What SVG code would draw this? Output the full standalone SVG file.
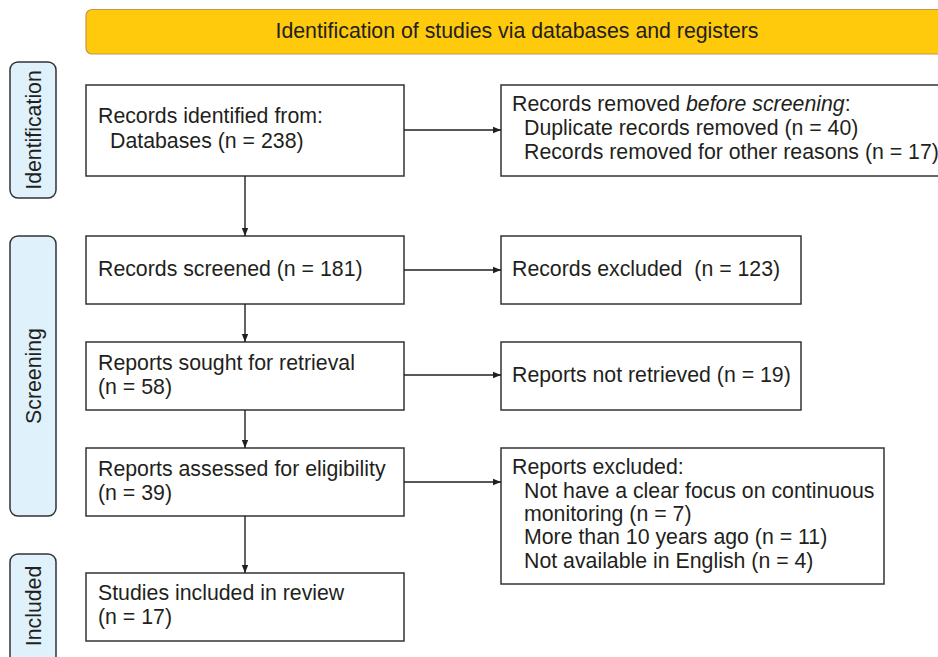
<svg xmlns="http://www.w3.org/2000/svg" width="938" height="657" viewBox="0 0 938 657">
  <style>
    .box { fill: #ffffff; stroke: #333333; stroke-width: 1.5; }
    .phase { fill: #dff1fa; stroke: #333333; stroke-width: 1.5; }
    .banner { fill: #ffc90c; stroke: #c9954a; stroke-width: 1.2; }
    text { font-family: "Liberation Sans", Arial, sans-serif; font-size: 21.3px; fill: #231f20; white-space: pre; }
    .conn { stroke: #231f20; stroke-width: 1.4; fill: none; marker-end: url(#arrow); }
  </style>
  <defs>
    <marker id="arrow" viewBox="0 0 10 10" refX="10" refY="5" markerWidth="8" markerHeight="8" markerUnits="userSpaceOnUse" orient="auto">
      <path d="M0,1 L10,5 L0,9 z" fill="#231f20"/>
    </marker>
  </defs>

  <!-- title banner -->
  <g id="banner">
    <rect class="banner" x="86" y="9.5" width="870" height="44.5" rx="6"/>
    <text x="517" y="38" text-anchor="middle" font-size="21">Identification of studies via databases and registers</text>
  </g>

  <!-- phase labels -->
  <g id="phase-identification">
    <rect class="phase" x="10" y="62" width="46" height="136" rx="8"/>
    <text transform="translate(41,130) rotate(-90)" text-anchor="middle">Identification</text>
  </g>
  <g id="phase-screening">
    <rect class="phase" x="10" y="236" width="46" height="280" rx="8"/>
    <text transform="translate(41,376) rotate(-90)" text-anchor="middle">Screening</text>
  </g>
  <g id="phase-included">
    <rect class="phase" x="10" y="554" width="46" height="120" rx="8"/>
    <text transform="translate(41,606) rotate(-90)" text-anchor="middle">Included</text>
  </g>

  <!-- main column -->
  <g id="identified">
    <rect class="box" x="86" y="85" width="318" height="91"/>
    <text x="98" y="123">Records identified from:</text>
    <text x="110" y="148">Databases (n = 238)</text>
  </g>
  <g id="screened">
    <rect class="box" x="86" y="236" width="318" height="68"/>
    <text x="98" y="276">Records screened (n = 181)</text>
  </g>
  <g id="sought">
    <rect class="box" x="86" y="342" width="318" height="68"/>
    <text x="98" y="370">Reports sought for retrieval</text>
    <text x="98" y="394">(n = 58)</text>
  </g>
  <g id="assessed">
    <rect class="box" x="86" y="448" width="318" height="68"/>
    <text x="98" y="476">Reports assessed for eligibility</text>
    <text x="98" y="500">(n = 39)</text>
  </g>
  <g id="included">
    <rect class="box" x="86" y="573" width="318" height="68"/>
    <text x="98" y="600">Studies included in review</text>
    <text x="98" y="624">(n = 17)</text>
  </g>

  <!-- side column -->
  <g id="removed">
    <rect class="box" x="501" y="85" width="460" height="91"/>
    <text x="512" y="111">Records removed <tspan font-style="italic">before screening</tspan>:</text>
    <text x="524" y="135">Duplicate records removed (n = 40)</text>
    <text x="524" y="159">Records removed for other reasons (n = 17)</text>
  </g>
  <g id="excluded">
    <rect class="box" x="501" y="236" width="300" height="68"/>
    <text x="512" y="276">Records excluded  (n = 123)</text>
  </g>
  <g id="not-retrieved">
    <rect class="box" x="501" y="342" width="300" height="68"/>
    <text x="512" y="382">Reports not retrieved (n = 19)</text>
  </g>
  <g id="reports-excluded">
    <rect class="box" x="501" y="448" width="383" height="136"/>
    <text x="512" y="474">Reports excluded:</text>
    <text x="524" y="498">Not have a clear focus on continuous</text>
    <text x="524" y="521">monitoring (n = 7)</text>
    <text x="524" y="544">More than 10 years ago (n = 11)</text>
    <text x="524" y="568">Not available in English (n = 4)</text>
  </g>

  <!-- connectors -->
  <g id="connectors">
    <line class="conn" x1="245" y1="176" x2="245" y2="236"/>
    <line class="conn" x1="245" y1="304" x2="245" y2="342"/>
    <line class="conn" x1="245" y1="410" x2="245" y2="448"/>
    <line class="conn" x1="245" y1="516" x2="245" y2="573"/>
    <line class="conn" x1="404" y1="130" x2="501" y2="130"/>
    <line class="conn" x1="404" y1="270" x2="501" y2="270"/>
    <line class="conn" x1="404" y1="375" x2="501" y2="375"/>
    <line class="conn" x1="404" y1="482" x2="501" y2="482"/>
  </g>
</svg>
